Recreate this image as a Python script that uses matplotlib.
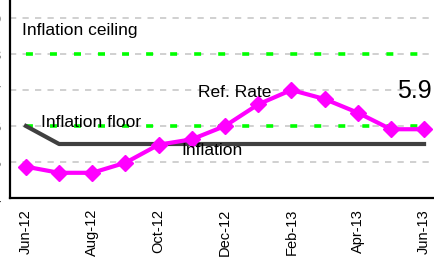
import numpy as np
import matplotlib
matplotlib.use("Agg")
import matplotlib.pyplot as plt

plt.rcParams['font.family'] = ['Liberation Sans', 'DejaVu Sans']
plt.rcParams['lines.scale_dashes'] = False

months = ["Jun-12", "Jul-12", "Aug-12", "Sep-12", "Oct-12", "Nov-12", "Dec-12",
          "Jan-13", "Feb-13", "Mar-13", "Apr-13", "May-13", "Jun-13"]
ref_rate = [4.87, 4.70, 4.70, 4.98, 5.48, 5.63, 6.0, 6.60, 7.0, 6.75, 6.37, 5.91, 5.91]
inflation = [6.0, 5.5, 5.5, 5.5, 5.5, 5.5, 5.5, 5.5, 5.5, 5.5, 5.5, 5.5, 5.5]
inflation_floor = 6
inflation_ceiling = 8
yticks = [4, 5, 6, 7, 8, 9]
last_label = "5.9"

x = np.arange(len(months))

fig = plt.figure(figsize=(4.34, 2.57), dpi=100)
ax = fig.add_axes([10 / 434, 59 / 257, 424 / 434, 198 / 257])

for y in yticks:
    ax.axhline(y, color='#c8c8c8', lw=1.2, dashes=(4.5, 4.5), zorder=1)
for y in (inflation_floor, inflation_ceiling):
    ax.axhline(y, color='#00ff00', lw=2.6, linestyle=(5.8, (5.0, 12.3)), zorder=2)

ax.plot(x, inflation, color='#404040', lw=3, zorder=3)
ax.plot(x, ref_rate, color='#ff00ff', lw=3, marker='D', markersize=8.5, zorder=4)

ax.text(-0.12, 8.64, "Inflation ceiling", fontsize=12.5, va='center', ha='left', zorder=5)
ax.text(5.19, 6.92, "Ref. Rate", fontsize=12.5, va='center', ha='left', zorder=5)
ax.text(0.44, 6.11, "Inflation floor", fontsize=12.5, va='center', ha='left', zorder=5)
ax.text(4.69, 5.33, "Inflation", fontsize=12.5, va='center', ha='left', zorder=5)
ax.text(11.18, 6.97, last_label, fontsize=18, va='center', ha='left', zorder=5)

ax.set_xlim(-0.48, 12.3)
ax.set_ylim(4, 9.5)
ax.set_xticks(x[::2])
ax.set_xticklabels(months[::2], rotation=90, fontsize=10.5)
ax.set_yticks(yticks)
ax.set_yticklabels([str(v) for v in yticks], fontsize=10.5)
ax.tick_params(axis='x', length=0, pad=8)
ax.tick_params(axis='y', length=0, pad=6.8)

for s in ('top', 'right'):
    ax.spines[s].set_visible(False)
for s in ('left', 'bottom'):
    ax.spines[s].set_linewidth(1.6)
    ax.spines[s].set_color('black')

fig.savefig("out.png", dpi=100)
